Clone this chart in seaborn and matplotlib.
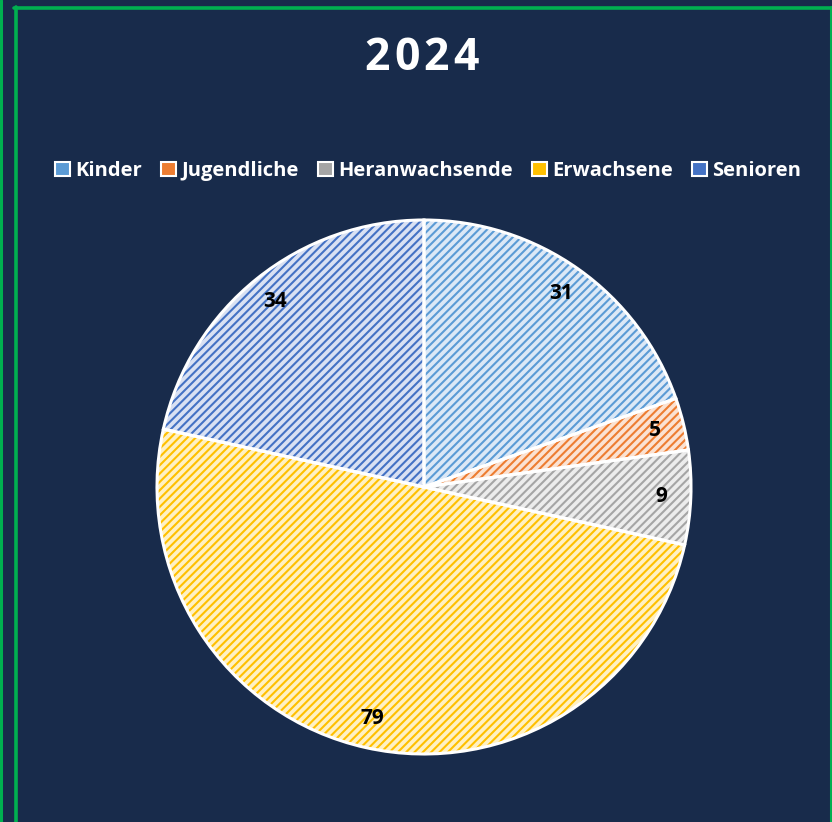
import matplotlib
matplotlib.use("Agg")
import matplotlib.pyplot as plt
import seaborn as sns
from matplotlib.patches import Patch
from matplotlib.lines import Line2D

# ---- data ----
categories = ["Kinder", "Jugendliche", "Heranwachsende", "Erwachsene", "Senioren"]
values = [31, 5, 9, 79, 34]
title = "2024"

# ---- style ----
fill_colors = ["#dce8f6", "#fbe2d2", "#ececec", "#fff1c4", "#d9e1f3"]
hatch_colors = ["#5b9bd5", "#ed7d31", "#a5a5a5", "#ffc000", "#4472c4"]
bg = "#182b4b"
green = "#00b050"

sns.set_theme(style="dark")
plt.rcParams["font.family"] = ["Open Sans", "DejaVu Sans"]
plt.rcParams["hatch.linewidth"] = 1.5

W, H = 832, 822
fig = plt.figure(figsize=(W / 100, H / 100), dpi=100)
fig.patch.set_facecolor(bg)

# pie axes: center (424, 487) px, radius 267 px
cx, cy, r = 424, 487, 267
lim = 1.05
half = r * lim
ax = fig.add_axes([(cx - half) / W, (H - cy - half) / H, 2 * half / W, 2 * half / H])
ax.set_facecolor("none")

total = sum(values)
wedges, _, autotexts = ax.pie(
    values, startangle=90, counterclock=False, radius=1,
    colors=fill_colors,
    wedgeprops=dict(linewidth=0),
    autopct=lambda p: f"{p * total / 100:.0f}",
    pctdistance=0.89,
    textprops=dict(color="black", fontsize=15, fontweight="bold"),
)
for w, hc in zip(wedges, hatch_colors):
    w.set_edgecolor(hc)
    w.set_hatch("////")
    w.set_linewidth(0)

# white separators / outline
ax.pie(values, startangle=90, counterclock=False, radius=1,
       wedgeprops=dict(fill=False, edgecolor="white", linewidth=2.2))
for t in autotexts:
    t.set_zorder(10)

ax.set_xlim(-lim, lim)
ax.set_ylim(-lim, lim)
ax.set_aspect("equal")
ax.axis("off")

# title with letter spacing
x0, pitch = 377, 29.7
for i, ch in enumerate(title):
    fig.text((x0 + i * pitch) / W, 1 - 59 / H, ch, color="white", fontsize=32,
             fontweight="bold", ha="center", va="center")

# legend
handles = [Patch(facecolor=hc, edgecolor="white", linewidth=1.5) for hc in hatch_colors]
leg = fig.legend(handles, categories, loc="center", bbox_to_anchor=(428 / W, 1 - 171 / H),
                 ncol=5, frameon=False, handlelength=0.75, handleheight=0.75,
                 handletextpad=0.25, columnspacing=0.95,
                 prop=dict(family=["Open Sans", "DejaVu Sans"], weight="bold", size=14.5))
for t in leg.get_texts():
    t.set_color("white")

# green frame lines
for (xs, ys, lw) in [
    ([1 / W, 1 / W], [0, 1], 2.2),
    ([15.5 / W, 15.5 / W], [0, 1 - 7 / H], 2.6),
    ([14 / W, 1], [1 - 8.5 / H, 1 - 8.5 / H], 2.6),
    ([831 / W, 831 / W], [0, 1 - 7 / H], 2.2),
]:
    fig.add_artist(Line2D(xs, ys, color=green, linewidth=lw, transform=fig.transFigure))

fig.savefig("out.png", dpi=100, facecolor=bg)
